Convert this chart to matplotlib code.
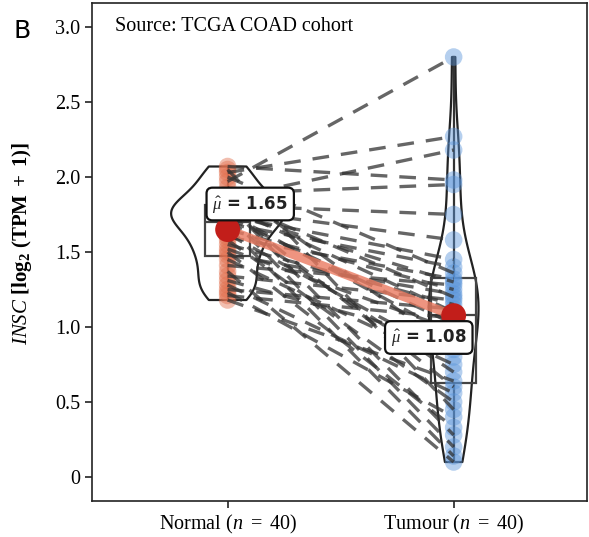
import numpy as np
import matplotlib
matplotlib.use("Agg")
import matplotlib.pyplot as plt

# paired INSC expression values, normal[i] pairs with tumour[i]
normal = [2.07, 2.05, 2.03, 2.00, 1.97, 1.93, 1.89, 1.86, 1.84, 1.82,
          1.81, 1.80, 1.79, 1.78, 1.76, 1.76, 1.75, 1.74, 1.73, 1.71,
          1.69, 1.67, 1.65, 1.62, 1.60, 1.58, 1.55, 1.52, 1.50, 1.48,
          1.45, 1.41, 1.37, 1.34, 1.31, 1.28, 1.25, 1.23, 1.21, 1.18]
tumour = [1.98, 0.45, 2.27, 1.36, 2.80, 0.85, 1.95, 2.18, 1.20, 0.28,
          1.75, 1.10, 0.60, 1.58, 0.94, 1.30, 0.20, 1.45, 1.02, 0.70,
          1.40, 0.14, 1.25, 0.80, 1.32, 0.50, 1.15, 0.98, 0.33, 1.22,
          0.75, 1.28, 0.10, 1.18, 0.90, 0.56, 1.12, 0.40, 1.06, 0.64]
groups = ["Normal", "Tumour"]
yticks = [0, 0.5, 1.0, 1.5, 2.0, 2.5, 3.0]

plt.rcParams['font.family'] = ['Liberation Serif', 'DejaVu Serif']
plt.rcParams['mathtext.fontset'] = 'custom'
plt.rcParams['mathtext.rm'] = 'Liberation Serif'
plt.rcParams['mathtext.it'] = 'Liberation Serif:italic'
plt.rcParams['mathtext.bf'] = 'Liberation Serif:bold'

fig = plt.figure(figsize=(5.89, 5.37), dpi=100)
ax = fig.add_axes([92 / 589, 36 / 537, 495 / 589, 498 / 537])

data = [np.array(normal), np.array(tumour)]
pos = [0, 1]

# violins
vp = ax.violinplot(data, positions=pos, widths=[0.5, 0.22], showextrema=False,
                   bw_method=0.4)
for b in vp['bodies']:
    b.set_facecolor('none')
    b.set_edgecolor('#222222')
    b.set_linewidth(1.6)
    b.set_alpha(1)

# boxes
ax.boxplot(data, positions=pos, widths=0.2, whis=(0, 100), showcaps=False,
           showfliers=False, patch_artist=True,
           boxprops=dict(facecolor='none', edgecolor='#444444', linewidth=1.6),
           whiskerprops=dict(color='#333333', linewidth=1.6),
           medianprops=dict(color='#444444', linewidth=1.6))

# points
ax.scatter(np.zeros(len(normal)), normal, s=160, color='#E2704F', alpha=0.45,
           edgecolors='none', zorder=3)
ax.scatter(np.ones(len(tumour)), tumour, s=160, color='#5B95DA', alpha=0.45,
           edgecolors='none', zorder=3)

# paired lines
for n, t in zip(normal, tumour):
    ax.plot([0, 1], [n, t], color='#333333', lw=2.4, alpha=0.75,
            ls=(0, (5, 3.6)), zorder=4)

# means
means = [np.mean(d) for d in data]
ax.plot(pos, means, color='#EA7A60', lw=6.5, alpha=0.8, zorder=5,
        solid_capstyle='butt')
ax.scatter(pos, means, s=320, color='#C21E1A', zorder=6, edgecolors='none')

label_xy = [(0.10, 1.82), (0.89, 0.93)]
for m, (lx, ly) in zip(means, label_xy):
    ax.text(lx, ly, r'$\hat{\mu}$' + ' = {:.2f}'.format(m), ha='center', va='center',
            fontsize=12, fontweight='bold', family='DejaVu Sans', color='#222222',
            zorder=7,
            bbox=dict(boxstyle='round,pad=0.35', fc='white', ec='#111111', lw=1.6))

ax.set_xlim(-0.6, 1.59)
ax.set_ylim(-0.16, 3.16)
ax.set_yticks(yticks)
ax.set_yticklabels(['0', '0.5', '1.0', '1.5', '2.0', '2.5', '3.0'])
ax.set_xticks(pos)
ax.set_xticklabels([r'Normal ($n\ =\ 40$)', r'Tumour ($n\ =\ 40$)'])
ax.tick_params(labelsize=14.5, length=5, width=1.2, color='#222222')
for s in ax.spines.values():
    s.set_linewidth(1.2)
    s.set_color('#222222')

ax.set_ylabel(r'$\mathit{INSC}$ $\mathbf{[log_{2}\ (TPM\ +\ 1)]}$', fontsize=15)
ax.yaxis.set_label_coords(-0.118, 0.518)
ax.text(0.047, 0.952, 'Source: TCGA COAD cohort', transform=ax.transAxes,
        fontsize=14.5, ha='left', va='center')
fig.text(13 / 589, 1 - 31 / 537, 'B', fontsize=18, family='DejaVu Sans',
         ha='left', va='center')

fig.savefig('out.png', dpi=100)
